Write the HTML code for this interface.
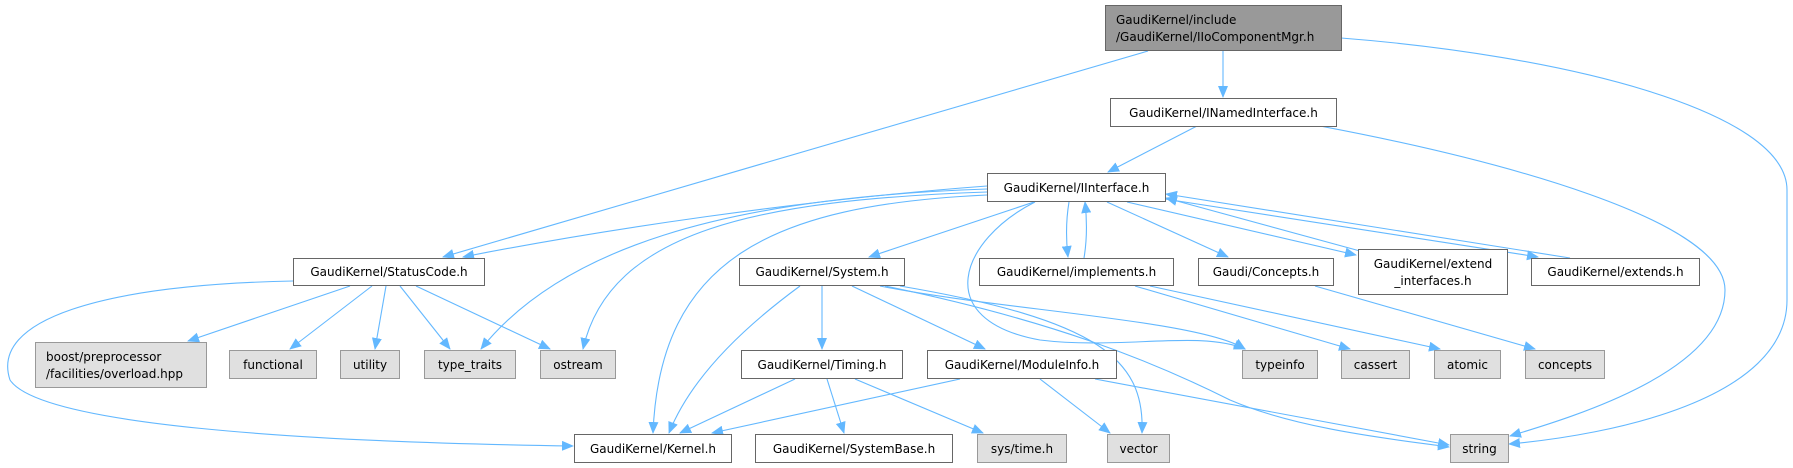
<!DOCTYPE html>
<html><head><meta charset="utf-8"><style>
html,body{margin:0;padding:0;background:#fff;}
svg{display:block;}
text{font-family:"DejaVu Sans","Liberation Sans",sans-serif;font-size:12px;fill:#000;}
.n{fill:#fff;stroke:#666;stroke-width:1;}
.g{fill:#e0e0e0;stroke:#999;stroke-width:1;}
.r{fill:#999;stroke:#666;stroke-width:1;}
.e{fill:none;stroke:#63b8ff;stroke-width:1.1;marker-end:url(#a);}
</style></head><body>
<svg width="1793" height="468" viewBox="0 0 1793 468" xmlns="http://www.w3.org/2000/svg">
<defs><marker id="a" markerWidth="12" markerHeight="10" refX="11" refY="5" orient="auto" markerUnits="userSpaceOnUse"><path d="M0,0 L12,5 L0,10 z" fill="#63b8ff"/></marker></defs>

<!-- edges -->
<path class="e" d="M1148,51 L443,257"/>
<path class="e" d="M1223,51 L1223,97"/>
<path class="e" d="M1341,38 C1560,55 1787,110 1787,190 L1787,300 C1787,400 1610,435 1509,444"/>
<path class="e" d="M1197,126 L1108,172"/>
<path class="e" d="M1320,126 C1500,160 1725,220 1725,290 C1725,370 1580,415 1510,436"/>

<path class="e" d="M987,186 C800,200 600,230 463,257"/>
<path class="e" d="M987,189 C720,198 560,250 481,349"/>
<path class="e" d="M987,192 C760,200 610,230 583,349"/>
<path class="e" d="M987,195 C770,205 660,260 653,433"/>
<path class="e" d="M1034,202 L869,257"/>
<path class="e" d="M1069,202 C1066,220 1066,240 1068,257"/>
<path class="e" d="M1084,258 C1087,240 1087,220 1085,202"/>
<path class="e" d="M1035,202 C960,240 930,320 1040,340 C1120,350 1200,330 1245,349"/>
<path class="e" d="M1107,202 L1228,257"/>
<path class="e" d="M1127,202 L1356,255"/>
<path class="e" d="M1360,251 L1166,198"/>
<path class="e" d="M1165,199 L1538,257"/>
<path class="e" d="M1570,258 L1166,194"/>

<path class="e" d="M350,286 L188,341"/>
<path class="e" d="M372,286 L290,349"/>
<path class="e" d="M386,286 L375,349"/>
<path class="e" d="M400,286 L450,349"/>
<path class="e" d="M416,286 L550,349"/>
<path class="e" d="M293,281 C100,285 -10,320 10,380 C40,425 300,442 573,446"/>

<path class="e" d="M800,286 C740,330 690,380 669,433"/>
<path class="e" d="M822,286 L822,349"/>
<path class="e" d="M852,286 L985,349"/>
<path class="e" d="M880,286 C1000,310 1200,320 1245,349"/>
<path class="e" d="M885,286 C1050,320 1150,360 1230,400 C1300,430 1400,440 1449,447"/>
<path class="e" d="M900,286 C1100,320 1145,360 1142,433"/>

<path class="e" d="M795,379 L680,433"/>
<path class="e" d="M827,379 L844,433"/>
<path class="e" d="M855,379 L983,433"/>
<path class="e" d="M960,379 L712,433"/>
<path class="e" d="M1040,379 L1110,433"/>
<path class="e" d="M1095,379 L1449,445"/>

<path class="e" d="M1135,286 L1350,349"/>
<path class="e" d="M1150,286 L1440,349"/>
<path class="e" d="M1315,286 L1535,349"/>

<!-- nodes -->
<rect class="r" x="1105.5" y="5.5" width="236" height="45"/>
<text x="1116" y="24">GaudiKernel/include</text>
<text x="1116" y="41">/GaudiKernel/IIoComponentMgr.h</text>

<rect class="n" x="1110.5" y="98.5" width="226" height="28"/>
<text x="1223.5" y="117" text-anchor="middle">GaudiKernel/INamedInterface.h</text>

<rect class="n" x="987.5" y="173.5" width="178" height="28"/>
<text x="1076.5" y="192" text-anchor="middle">GaudiKernel/IInterface.h</text>

<rect class="n" x="293.5" y="258.5" width="191" height="27"/>
<text x="389" y="276" text-anchor="middle">GaudiKernel/StatusCode.h</text>

<rect class="n" x="739.5" y="258.5" width="165" height="27"/>
<text x="822" y="276" text-anchor="middle">GaudiKernel/System.h</text>

<rect class="n" x="979.5" y="258.5" width="194" height="27"/>
<text x="1076.5" y="276" text-anchor="middle">GaudiKernel/implements.h</text>

<rect class="n" x="1198.5" y="258.5" width="135" height="27"/>
<text x="1266" y="276" text-anchor="middle">Gaudi/Concepts.h</text>

<rect class="n" x="1358.5" y="249.5" width="149" height="45"/>
<text x="1433" y="268" text-anchor="middle">GaudiKernel/extend</text>
<text x="1433" y="285" text-anchor="middle">_interfaces.h</text>

<rect class="n" x="1531.5" y="258.5" width="168" height="27"/>
<text x="1615.5" y="276" text-anchor="middle">GaudiKernel/extends.h</text>

<rect class="g" x="35.5" y="342.5" width="171" height="45"/>
<text x="46" y="361">boost/preprocessor</text>
<text x="46" y="378">/facilities/overload.hpp</text>

<rect class="g" x="229.5" y="350.5" width="87" height="28"/>
<text x="273" y="369" text-anchor="middle">functional</text>
<rect class="g" x="340.5" y="350.5" width="59" height="28"/>
<text x="370" y="369" text-anchor="middle">utility</text>
<rect class="g" x="424.5" y="350.5" width="91" height="28"/>
<text x="470" y="369" text-anchor="middle">type_traits</text>
<rect class="g" x="540.5" y="350.5" width="75" height="28"/>
<text x="578" y="369" text-anchor="middle">ostream</text>

<rect class="n" x="741.5" y="350.5" width="161" height="28"/>
<text x="822" y="369" text-anchor="middle">GaudiKernel/Timing.h</text>
<rect class="n" x="927.5" y="350.5" width="189" height="28"/>
<text x="1022" y="369" text-anchor="middle">GaudiKernel/ModuleInfo.h</text>

<rect class="g" x="1242.5" y="350.5" width="75" height="28"/>
<text x="1280" y="369" text-anchor="middle">typeinfo</text>
<rect class="g" x="1341.5" y="350.5" width="68" height="28"/>
<text x="1375.5" y="369" text-anchor="middle">cassert</text>
<rect class="g" x="1434.5" y="350.5" width="66" height="28"/>
<text x="1467.5" y="369" text-anchor="middle">atomic</text>
<rect class="g" x="1525.5" y="350.5" width="79" height="28"/>
<text x="1565" y="369" text-anchor="middle">concepts</text>

<rect class="n" x="574.5" y="434.5" width="157" height="28"/>
<text x="653" y="453" text-anchor="middle">GaudiKernel/Kernel.h</text>
<rect class="n" x="755.5" y="434.5" width="197" height="28"/>
<text x="854" y="453" text-anchor="middle">GaudiKernel/SystemBase.h</text>
<rect class="g" x="977.5" y="434.5" width="89" height="28"/>
<text x="1022" y="453" text-anchor="middle">sys/time.h</text>
<rect class="g" x="1107.5" y="434.5" width="62" height="28"/>
<text x="1138.5" y="453" text-anchor="middle">vector</text>
<rect class="g" x="1450.5" y="434.5" width="58" height="28"/>
<text x="1479.5" y="453" text-anchor="middle">string</text>
</svg>
</body></html>
